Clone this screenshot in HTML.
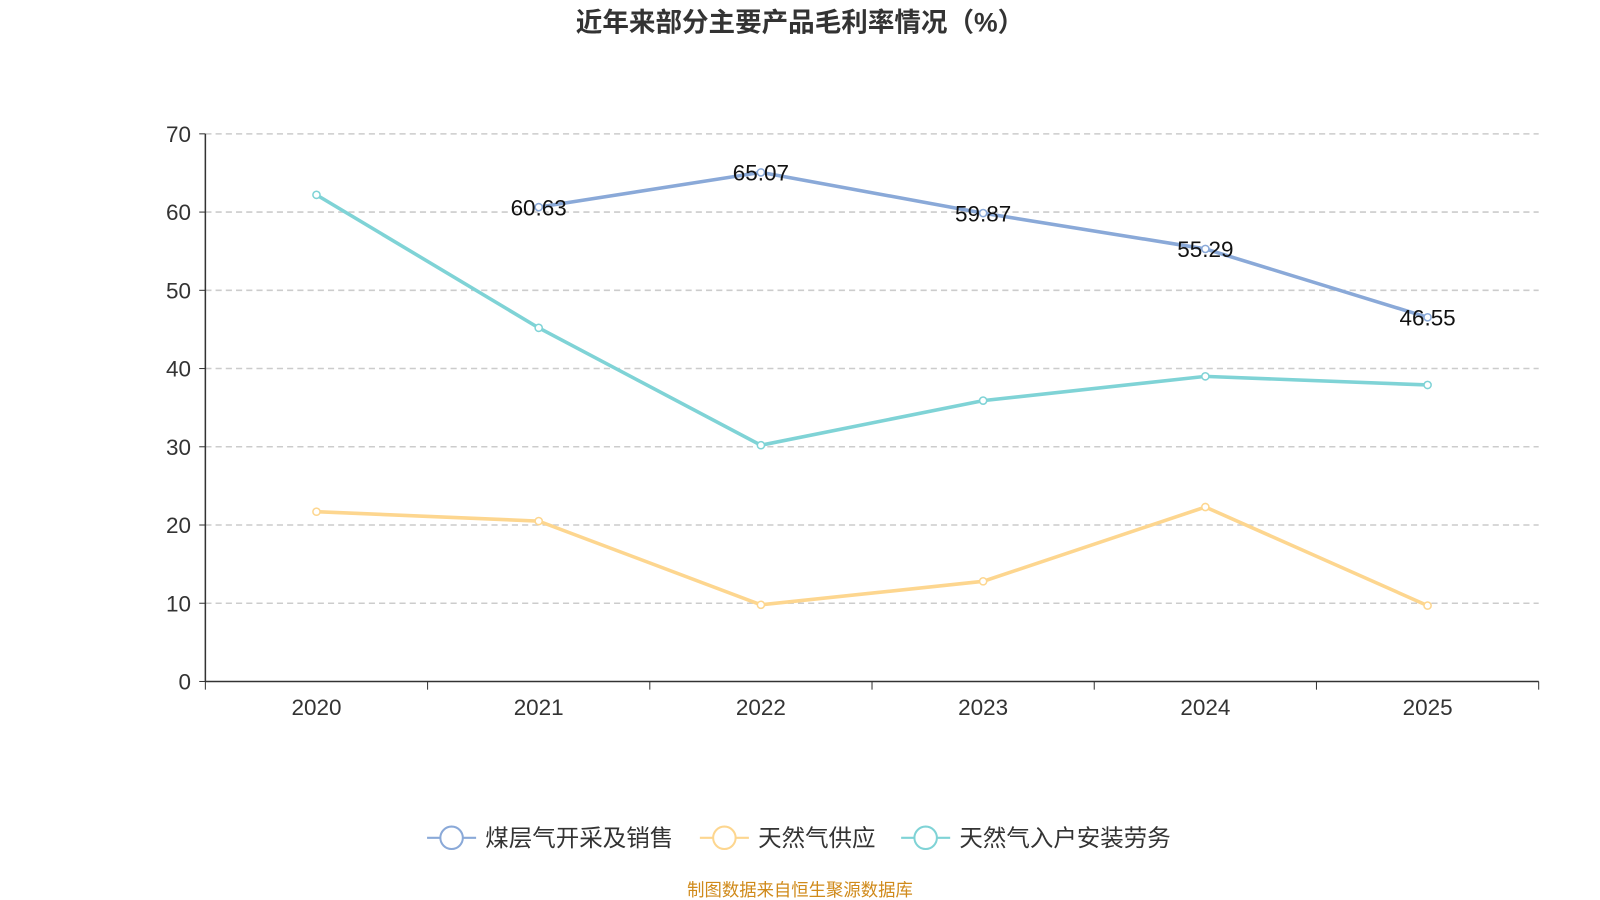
<!DOCTYPE html>
<html><head><meta charset="utf-8">
<style>
html,body{margin:0;padding:0;background:#fff;}
svg{display:block;font-family:"Liberation Sans","Noto Sans CJK SC",sans-serif;}
</style></head>
<body>
<svg id="chart" width="1600" height="900" viewBox="0 0 1600 900">
<g transform="scale(1.0217)">
<text x="783" y="31" text-anchor="middle" font-size="26" font-weight="bold" fill="#333">近年来部分主要产品毛利率情况（%）</text>
<g id="grid"></g><g id="axes"></g><g id="series"></g><g id="labels"></g>
<g id="legend"></g>
<text x="783" y="877" text-anchor="middle" font-size="17" fill="#d08a1a">制图数据来自恒生聚源数据库</text>
</g>
</svg>
<script>
const categories=["2020","2021","2022","2023","2024","2025"];
const coalValues=[null,60.63,65.07,59.87,55.29,46.55];
const supplyValues=[21.7,20.5,9.8,12.8,22.3,9.7];
const installValues=[62.2,45.2,30.2,35.9,39.0,37.9];
const yTicks=[0,10,20,30,40,50,60,70];
const seriesNames=["煤层气开采及销售","天然气供应","天然气入户安装劳务"];
const NS="http://www.w3.org/2000/svg";
const X0=201,X1=1506,Y0=667,Y1=131,YMAX=70;
const step=(X1-X0)/categories.length;
const xs=i=>X0+step*(i+0.5);
const ys=v=>Y0-(v/YMAX)*(Y0-Y1);
function mk(tag,attrs,parent){const e=document.createElementNS(NS,tag);for(const k in attrs)e.setAttribute(k,attrs[k]);parent.appendChild(e);return e;}
const grid=document.getElementById('grid'),axes=document.getElementById('axes'),ser=document.getElementById('series'),lab=document.getElementById('labels'),leg=document.getElementById('legend');
yTicks.forEach(t=>{
  if(t>0){const l=mk('line',{x1:X0,x2:X1,y1:ys(t),y2:ys(t),stroke:'#ccc','stroke-dasharray':'6,4','stroke-width':1.5},grid);
  }
  mk('line',{x1:X0-6,x2:X0,y1:ys(t),y2:ys(t),stroke:'#333'},axes);
  const tx=mk('text',{x:X0-14,y:ys(t)+8,'text-anchor':'end','font-size':22,fill:'#333'},axes);tx.textContent=t;
  
});
const ya=mk('line',{x1:X0,x2:X0,y1:Y1,y2:Y0,stroke:'#333','stroke-width':1.5},axes);

const xa=mk('line',{x1:X0,x2:X1,y1:Y0,y2:Y0,stroke:'#333','stroke-width':1.5},axes);

for(let i=0;i<=categories.length;i++)mk('line',{x1:X0+step*i,x2:X0+step*i,y1:Y0,y2:Y0+8,stroke:'#333'},axes);
categories.forEach((c,i)=>{const t=mk('text',{x:xs(i),y:Y0+33,'text-anchor':'middle','font-size':22,fill:'#333'},axes);t.textContent=c;
  });
const colors=["#8aa9d8","#fdd68f","#7fd3d6"];
[coalValues,supplyValues,installValues].forEach((vals,si)=>{
  let d='';vals.forEach((v,i)=>{if(v==null)return;d+=(d?'L':'M')+xs(i)+','+ys(v);});
  const p=mk('path',{d:d,fill:'none',stroke:colors[si],'stroke-width':3.5},ser);
  
  vals.forEach((v,i)=>{if(v==null)return;const c=mk('circle',{cx:xs(i),cy:ys(v),r:3.5,fill:'#fff',stroke:colors[si],'stroke-width':1.5},ser);
    
    if(si===0){const t=mk('text',{x:xs(i),y:ys(v)+8,'text-anchor':'middle','font-size':22,fill:'#111'},lab);t.textContent=v.toFixed(2);
      }
  });
});
const legX=[418,685,882];
seriesNames.forEach((n,i)=>{
  const g=mk('g',{},leg);
  mk('line',{x1:legX[i],x2:legX[i]+48,y1:820,y2:820,stroke:colors[i],'stroke-width':2},g);
  mk('circle',{cx:legX[i]+24,cy:820,r:11,fill:'#fff',stroke:colors[i],'stroke-width':2},g);
  const t=mk('text',{x:legX[i]+57,y:828,'font-size':23,fill:'#333'},g);t.textContent=n;
});
</script>
</body></html>
